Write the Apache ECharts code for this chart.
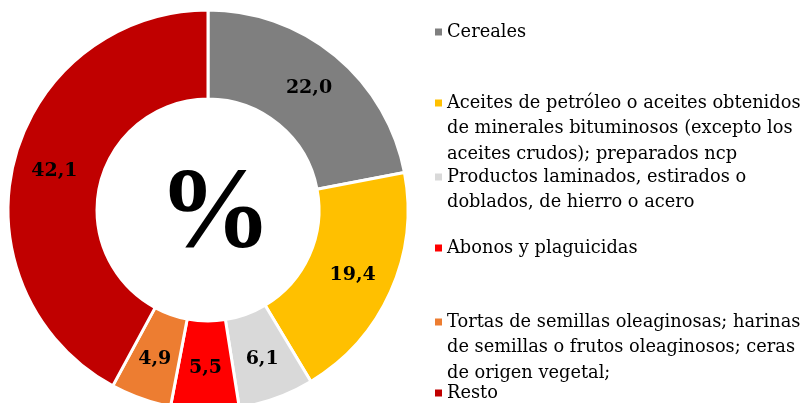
<!DOCTYPE html>
<html>
<head>
<meta charset="utf-8">
<style>
  html, body { margin: 0; padding: 0; background: #fff; }
  #chart { width: 804px; height: 403px; }
</style>
<script src="https://cdn.jsdelivr.net/npm/echarts@6/dist/echarts.min.js"></script>
</head>
<body>
<div id="chart"></div>
<script>
// datos
const categories = [
  'Cereales',
  'Aceites de petróleo o aceites obtenidos de minerales bituminosos (excepto los aceites crudos); preparados ncp',
  'Productos laminados, estirados o doblados, de hierro o acero',
  'Abonos y plaguicidas',
  'Tortas de semillas oleaginosas; harinas de semillas o frutos oleaginosos; ceras de origen vegetal;',
  'Resto'
];
const values = [22.0, 19.4, 6.1, 5.5, 4.9, 42.1];
const colors = ['#7F7F7F', '#FFC000', '#D9D9D9', '#FF0000', '#ED7D31', '#C00000'];

// texto de la leyenda partido en líneas
const legendLines = [
  ['Cereales'],
  ['Aceites de petróleo o aceites obtenidos', 'de minerales bituminosos (excepto los', 'aceites crudos); preparados ncp'],
  ['Productos laminados, estirados o', 'doblados, de hierro o acero'],
  ['Abonos y plaguicidas'],
  ['Tortas de semillas oleaginosas; harinas', 'de semillas o frutos oleaginosos; ceras', 'de origen vegetal;'],
  ['Resto']
];
const legendFirstLineY = [32, 103, 177, 248, 322, 393];

const FONT = '"DejaVu Serif", serif';
const LH = 25.5;

const chart = echarts.init(document.getElementById('chart'));

// una leyenda por elemento; se anteponen líneas vacías para que el icono quede en la primera línea
const legends = categories.map((name, i) => {
  const lines = legendLines[i];
  const n = lines.length;
  const text = Array(n - 1).fill(' ').concat(lines).join('\n');
  return {
    data: [name],
    orient: 'vertical',
    left: 435,
    top: legendFirstLineY[i] - (2 * n - 1) * LH / 2,
    padding: 0,
    itemWidth: 7,
    itemHeight: 7,
    itemGap: 0,
    itemStyle: { borderWidth: 0 },
    icon: 'rect',
    selectedMode: false,
    formatter: () => text,
    textStyle: { fontFamily: FONT, fontSize: 17.8, lineHeight: LH, color: '#000' }
  };
});

chart.setOption({
  animation: false,
  title: {
    text: '%',
    left: 210,
    top: 212,
    textAlign: 'center',
    textVerticalAlign: 'middle',
    textStyle: { fontFamily: '"Liberation Serif", serif', fontSize: 114, fontWeight: 'bold', color: '#000' }
  },
  legend: legends,
  series: [
    {
      type: 'pie',
      center: [208, 210],
      radius: [111, 200],
      startAngle: 90,
      clockwise: true,
      avoidLabelOverlap: false,
      color: colors,
      itemStyle: { borderColor: '#fff', borderWidth: 3 },
      label: {
        show: true,
        position: 'inside',
        formatter: p => p.value.toFixed(1).replace('.', ','),
        fontFamily: FONT,
        fontSize: 19,
        fontWeight: 'bold',
        color: '#000'
      },
      labelLine: { show: false },
      emphasis: { disabled: true },
      data: categories.map((name, i) => ({ name, value: values[i] }))
    }
  ]
});
</script>
</body>
</html>
